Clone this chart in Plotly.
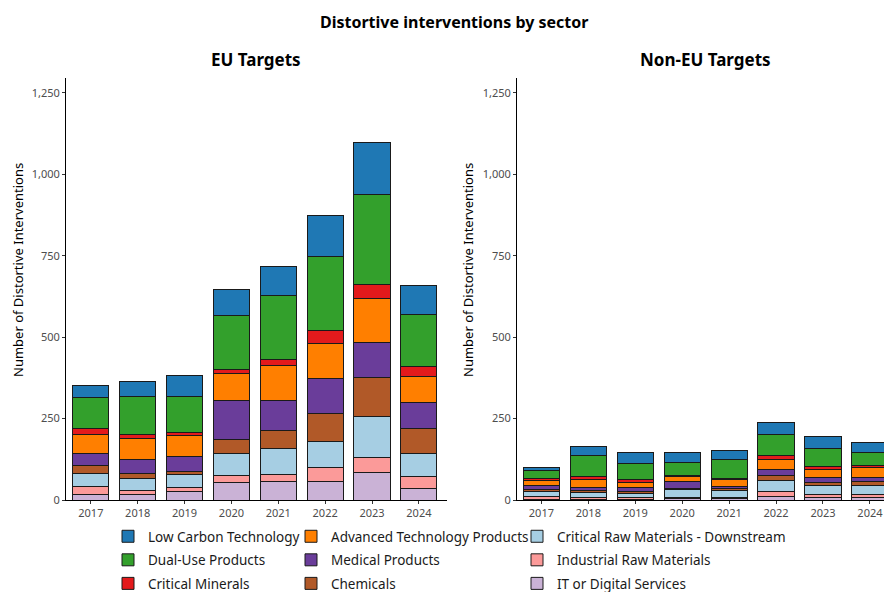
import plotly.graph_objects as go
from plotly.subplots import make_subplots

years = ["2017", "2018", "2019", "2020", "2021", "2022", "2023", "2024"]

# sectors listed bottom-of-stack first
sectors = ["IT or Digital Services", "Industrial Raw Materials", "Critical Raw Materials - Downstream",
           "Chemicals", "Medical Products", "Advanced Technology Products",
           "Critical Minerals", "Dual-Use Products", "Low Carbon Technology"]
colors = ["#CAB2D6", "#FB9A99", "#A6CEE3", "#B15928", "#6A3D9A", "#FF7F00",
          "#E31A1C", "#33A02C", "#1F78B4"]
legend_col = ["legend3", "legend3", "legend3", "legend2", "legend2", "legend2",
              "legend", "legend", "legend"]

# EU targets
eu_it = [17, 17, 27, 55, 57, 56, 84, 36]
eu_ind_raw = [24, 13, 12, 21, 22, 43, 46, 36]
eu_crm_down = [41, 36, 39, 67, 79, 82, 125, 70]
eu_chem = [24, 14, 10, 43, 55, 85, 121, 78]
eu_med = [37, 45, 46, 119, 92, 108, 108, 79]
eu_adv = [59, 63, 64, 84, 108, 107, 135, 80]
eu_crit_min = [18, 12, 10, 12, 19, 41, 43, 30]
eu_dual = [95, 118, 110, 165, 197, 227, 276, 161]
eu_low_carbon = [38, 47, 64, 82, 87, 126, 160, 90]

# Non-EU targets
non_it = [2, 2, 3, 4, 4, 10, 7, 8]
non_ind_raw = [10, 6, 4, 4, 4, 17, 9, 8]
non_crm_down = [13, 16, 14, 23, 22, 34, 29, 28]
non_chem = [7, 4, 4, 4, 5, 14, 8, 12]
non_med = [12, 10, 14, 21, 6, 18, 15, 14]
non_adv = [15, 26, 15, 15, 21, 30, 26, 29]
non_crit_min = [8, 9, 9, 3, 5, 15, 10, 8]
non_dual = [25, 63, 50, 42, 58, 64, 55, 38]
non_low_carbon = [8, 29, 33, 30, 27, 35, 35, 31]

y_ticks = [0, 250, 500, 750, 1000, 1250]
y_tick_labels = ["0", "250", "500", "750", "1,000", "1,250"]

eu_series = [eu_it, eu_ind_raw, eu_crm_down, eu_chem, eu_med, eu_adv, eu_crit_min, eu_dual, eu_low_carbon]
non_series = [non_it, non_ind_raw, non_crm_down, non_chem, non_med, non_adv, non_crit_min, non_dual, non_low_carbon]

FONT = "Noto Sans"
W, H = 884, 592
BASE = 500  # page y of the zero line
TOP = 78    # page y of plot top
MT = TOP
MB = H - BASE
PH = H - MT - MB

def px_x(p):
    return p / W

def px_y(p):
    return (BASE - p) / PH

fig = make_subplots(rows=1, cols=2)

for i, name in enumerate(sectors):
    rank = len(sectors) - i
    fig.add_trace(go.Bar(x=years, y=eu_series[i], name=name, marker_color=colors[i],
                         marker_line_color="#1a1a1a", marker_line_width=1, width=0.77,
                         legendgroup=name, legend=legend_col[i], legendrank=rank,
                         showlegend=True),
                  row=1, col=1)
    fig.add_trace(go.Bar(x=years, y=non_series[i], name=name, marker_color=colors[i],
                         marker_line_color="#1a1a1a", marker_line_width=1, width=0.77,
                         legendgroup=name, legend=legend_col[i], legendrank=rank,
                         showlegend=False),
                  row=1, col=2)

axis_common = dict(showline=True, linecolor="black", linewidth=1, ticks="outside",
                   ticklen=3, tickcolor="#333333", showgrid=False, zeroline=False,
                   tickfont=dict(family=FONT, size=11, color="#4D4D4D"))

fig.update_layout(
    barmode="stack",
    width=W, height=H,
    margin=dict(l=0, r=0, t=MT, b=MB, autoexpand=False),
    plot_bgcolor="white", paper_bgcolor="white",
    font=dict(family=FONT, color="black"),
    xaxis=dict(domain=[px_x(66), px_x(447)], type="category", range=[-0.53, 7.6], **axis_common),
    xaxis2=dict(domain=[px_x(517), 1.0], type="category", range=[-0.52, 7.3], **axis_common),
    yaxis=dict(range=[0, 1296], tickvals=y_ticks, ticktext=y_tick_labels, **axis_common),
    yaxis2=dict(range=[0, 1296], tickvals=y_ticks, ticktext=y_tick_labels, **axis_common),
)

leg_common = dict(orientation="v", xanchor="left", yanchor="top", y=px_y(521),
                  traceorder="grouped", tracegroupgap=3,
                  font=dict(family=FONT, size=13.5, color="#1a1a1a"),
                  bgcolor="rgba(0,0,0,0)", itemclick=False, itemdoubleclick=False)
fig.update_layout(
    legend=dict(x=px_x(148 - 40), **leg_common),
    legend2=dict(x=px_x(331 - 40), **leg_common),
    legend3=dict(x=px_x(557 - 40), **leg_common),
)

annotations = [
    dict(text="<b>Distortive interventions by sector</b>", x=px_x(454), y=px_y(22),
         font=dict(size=16, family=FONT, color="black")),
    dict(text="<b>EU Targets</b>", x=px_x(256), y=px_y(60),
         font=dict(size=17, family=FONT, color="black")),
    dict(text="<b>Non-EU Targets</b>", x=px_x(705), y=px_y(60),
         font=dict(size=17, family=FONT, color="black")),
    dict(text="Number of Distortive Interventions", x=px_x(18), y=px_y(270), textangle=-90,
         font=dict(size=13, family=FONT, color="black")),
    dict(text="Number of Distortive Interventions", x=px_x(468), y=px_y(270), textangle=-90,
         font=dict(size=13, family=FONT, color="black")),
]
for a in annotations:
    fig.add_annotation(xref="paper", yref="paper", showarrow=False,
                       xanchor="center", yanchor="middle", **a)

fig.write_html(
    "out.html",
    config={"displayModeBar": False},
    post_script="document.body.style.margin='0';document.body.style.overflow='hidden';",
)
